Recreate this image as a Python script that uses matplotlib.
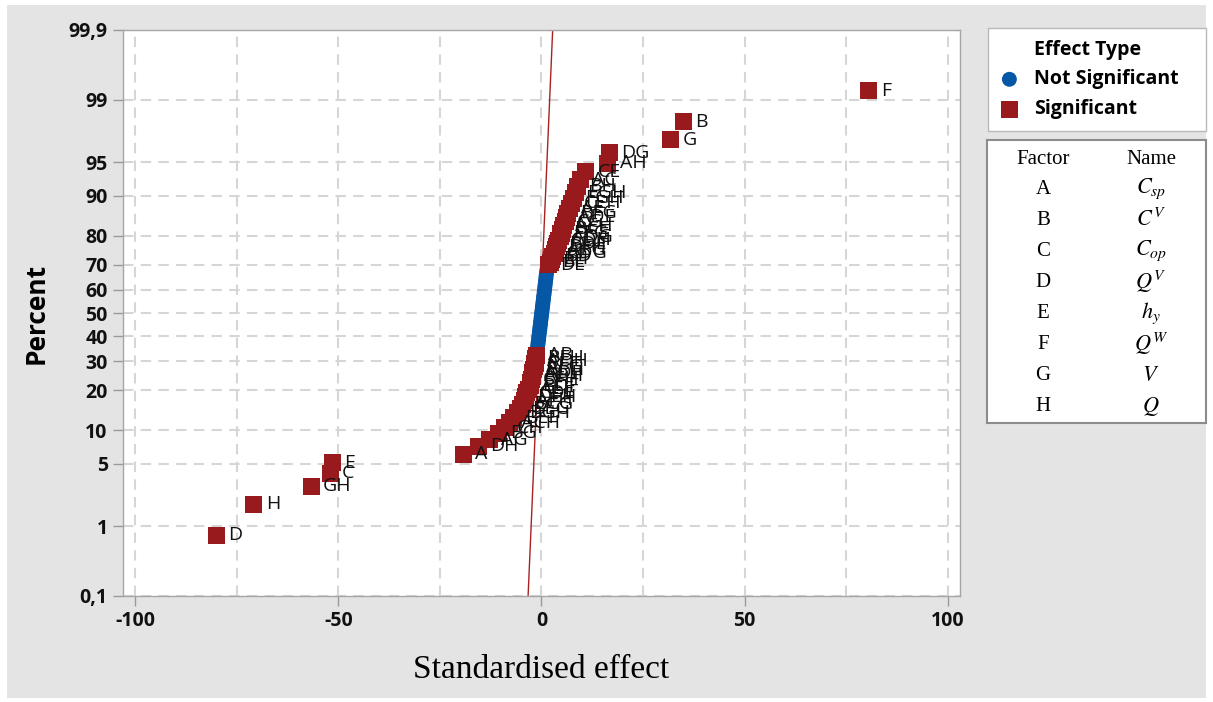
import matplotlib
matplotlib.use('Agg')
import matplotlib.pyplot as plt
from matplotlib.lines import Line2D
from matplotlib.patches import Rectangle
from statistics import NormalDist

plt.rcParams['font.family'] = ['Open Sans', 'DejaVu Sans']
plt.rcParams['mathtext.fontset'] = 'stix'
plt.rcParams['axes.unicode_minus'] = False

# standardised effects, sorted from lowest to highest, split by effect type
low_terms = ['D', 'H', 'GH', 'C', 'E', 'A', 'DH', 'AG', 'BG', 'CH', 'ACH', 'BEF',
             'BGH', 'BEG', 'BCG', 'AFH', 'DEH', 'CDE', 'AEF', 'BDF', 'EF', 'CFH',
             'ABH', 'ADF', 'BCH', 'AFG', 'CEF', 'ADH', 'BFH', 'AB']
low_effects = [-80.1, -70.8, -56.7, -52.0, -51.4, -19.2, -15.5, -12.8, -10.6, -9.1,
               -7.9, -6.9, -5.9, -5.2, -4.7, -4.3, -3.9, -3.6, -3.2, -2.8,
               -2.6, -2.5, -2.2, -2.1, -2.0, -1.7, -1.6, -1.5, -1.4, -1.2]

ns_effects = [-1.10, -1.03, -0.97, -0.88, -0.82, -0.72, -0.66, -0.57, -0.52, -0.41,
              -0.36, -0.27, -0.22, -0.12, -0.07, 0.03, 0.08, 0.18, 0.22, 0.33,
              0.37, 0.47, 0.52, 0.63, 0.67, 0.78, 0.83, 0.92, 0.99, 1.08,
              1.13, 1.24, 1.31, 1.42]

high_terms = ['DE', 'BE', 'EH', 'BD', 'CDG', 'AEG', 'DFH', 'BDE', 'CDH', 'ADG',
              'EFG', 'BCE', 'AEH', 'CG', 'ADE', 'BFG', 'AE', 'CEH', 'FGH', 'EGH',
              'BH', 'AC', 'CE', 'AH', 'DG', 'G', 'B', 'F']
high_effects = [1.7, 2.1, 2.5, 2.8, 3.2, 3.5, 3.7, 3.9, 4.2, 4.6,
                4.8, 5.1, 5.4, 5.8, 6.2, 6.5, 6.9, 7.4, 7.9, 8.3,
                8.8, 9.6, 10.9, 16.3, 16.8, 31.8, 35.0, 80.6]

# reference line (effect, percent)
ref_effect = [-3.3, 2.75]
ref_pct = [0.1, 99.9]

pct_ticks = [0.1, 1, 5, 10, 20, 30, 40, 50, 60, 70, 80, 90, 95, 99, 99.9]
pct_labels = ['0,1', '1', '5', '10', '20', '30', '40', '50', '60', '70', '80', '90', '95', '99', '99,9']

factors = ['A', 'B', 'C', 'D', 'E', 'F', 'G', 'H']
names = ['$C_{sp}$', '$C^{V}$', '$C_{op}$', '$Q^{V}$', '$h_{y}$', '$Q^{W}$', '$V$', '$Q$']

BLUE = '#0657a6'
RED = '#981a1c'
GRID = '#d6d6d6'

nd = NormalDist()
n = len(low_effects) + len(ns_effects) + len(high_effects)


def score(rank):
    # median rank plotting position on a normal scale
    return nd.inv_cdf((rank - 0.3) / (n + 0.4))


def pscore(pct):
    return nd.inv_cdf(pct / 100.0)


r_low = list(range(1, len(low_effects) + 1))
r_ns = list(range(len(low_effects) + 1, len(low_effects) + len(ns_effects) + 1))
r_high = list(range(n - len(high_effects) + 1, n + 1))

W, H = 1213, 702
fig = plt.figure(figsize=(W / 100, H / 100), dpi=100)
fig.patch.set_facecolor('white')
fig.patches.append(Rectangle((7 / W, 4 / H), 1199 / W, 693 / H, transform=fig.transFigure,
                             facecolor='#e4e4e4', edgecolor='none', zorder=-10))

ax = fig.add_axes([123 / W, 1 - 596 / H, 837 / W, 566 / H])
ax.set_facecolor('white')

ax.plot(ref_effect, [pscore(p) for p in ref_pct], color='#a82222', lw=1.0, zorder=2)

sig_x = low_effects + high_effects
sig_y = [score(r) for r in r_low + r_high]
ns = ax.scatter(ns_effects, [score(r) for r in r_ns], marker='o', s=115, color=BLUE,
                edgecolors='none', zorder=3, label='Not Significant')
sg = ax.scatter(sig_x, sig_y, marker='s', s=150, color=RED, edgecolors='none',
                zorder=3, label='Significant')

for term, x, y in zip(low_terms + high_terms, sig_x, sig_y):
    ax.annotate(term, (x, y), xytext=(8.5, 0), textcoords='offset points',
                va='center', ha='left', fontsize=14, color='#111111', zorder=4)

ax.set_xlim(-103, 103)
ax.set_ylim(pscore(0.1), pscore(99.9))
ax.set_xticks([-100, -50, 0, 50, 100])
ax.set_xticks([-75, -25, 25, 75], minor=True)
ax.set_yticks([pscore(p) for p in pct_ticks])
ax.set_yticklabels(pct_labels)
ax.grid(True, which='both', color=GRID, lw=1.5, ls=(0, (5, 3.5)), zorder=0)
ax.set_axisbelow(True)
ax.tick_params(which='major', length=7, width=1, color='#9a9a9a', labelsize=14,
               labelcolor='#111111', pad=4)
ax.tick_params(which='minor', length=0)
for lab in ax.get_xticklabels() + ax.get_yticklabels():
    lab.set_fontweight('bold')
for sp in ax.spines.values():
    sp.set_color('#a6a6a6')
    sp.set_linewidth(1.0)

ax.set_ylabel('Percent', fontsize=19, fontweight='bold', labelpad=14)
ax.set_xlabel('Standardised effect', family=['Liberation Serif'], fontsize=24, labelpad=17)

title_handle = Line2D([], [], ls='none', marker=None)
leg = fig.legend([title_handle, ns, sg], ['Effect Type', 'Not Significant', 'Significant'],
                 loc='upper left', bbox_to_anchor=(988 / W, 1 - 130 / H, 218 / W, 102 / H),
                 mode='expand', frameon=True, fancybox=False, framealpha=1,
                 edgecolor='#b8b8b8', prop={'weight': 'bold', 'size': 14},
                 handlelength=1.0, handletextpad=0.75, labelspacing=0.5,
                 borderpad=0.6, borderaxespad=0)
leg.get_frame().set_linewidth(1.0)

tab = fig.add_axes([987 / W, 1 - 423 / H, 219 / W, 283 / H])
tab.set_xlim(0, 1)
tab.set_ylim(0, 1)
tab.set_xticks([])
tab.set_yticks([])
for sp in tab.spines.values():
    sp.set_color('#8c8c8c')
    sp.set_linewidth(1.5)
tab.text(0.256, 0.93, 'Factor', ha='center', va='center', family=['Liberation Serif'], fontsize=15)
tab.text(0.749, 0.93, 'Name', ha='center', va='center', family=['Liberation Serif'], fontsize=15)
for k, (f, nm) in enumerate(zip(factors, names)):
    yy = 0.826 - k * 0.1095
    tab.text(0.256, yy, f, ha='center', va='center', family=['Liberation Serif'], fontsize=15)
    tab.text(0.749, yy, nm, ha='center', va='center', fontsize=16)

fig.savefig('out.png', dpi=100, facecolor=fig.get_facecolor())
